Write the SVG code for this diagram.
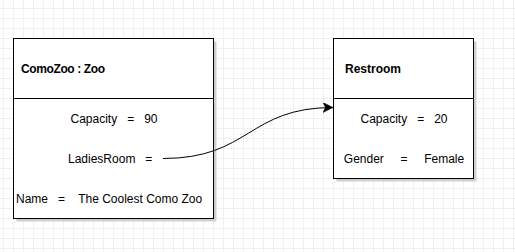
<svg xmlns="http://www.w3.org/2000/svg" width="515" height="252" viewBox="0 0 515 252">
  <style>
    .box { fill: #ffffff; stroke: #000000; stroke-width: 1; }
    .shadow { fill: #cfcfcf; }
    .div { stroke: #000000; stroke-width: 1; }
    .t { font-family: "Liberation Sans", Arial, sans-serif; font-size: 12px; fill: #000000; }
    .b { font-weight: bold; }
    .edge { fill: none; stroke: #000000; stroke-width: 1; }
  </style>
  <defs>
    <pattern id="grid" x="3" y="8" width="10" height="10" patternUnits="userSpaceOnUse">
      <path d="M0,0.5 H10 M0.5,0 V10" fill="none" stroke="#f0f0f0" stroke-width="1"/>
    </pattern>
    <marker id="arrow" markerWidth="12" markerHeight="12" refX="10" refY="5" orient="auto" markerUnits="userSpaceOnUse">
      <path d="M0,0 L10,5 L0,10 L2.5,5 Z" fill="#000000" stroke="#000000" stroke-width="0.5"/>
    </marker>
  </defs>
  <rect width="515" height="252" fill="#ffffff"/>
  <rect width="515" height="252" fill="url(#grid)"/>

  <g id="comozoo">
    <rect class="shadow" x="16.5" y="41.5" width="200" height="180"/>
    <rect class="box" x="13.5" y="38.5" width="200" height="180"/>
    <line class="div" x1="13.5" y1="98.5" x2="213.5" y2="98.5"/>
    <text class="t b" x="21" y="73" textLength="84" lengthAdjust="spacing">ComoZoo : Zoo</text>
    <text class="t" x="114" y="123" text-anchor="middle" xml:space="preserve">Capacity   =   90</text>
    <text class="t" x="68" y="163" xml:space="preserve">LadiesRoom   =</text>
    <text class="t" x="16" y="203" xml:space="preserve">Name   =    The Coolest Como Zoo</text>
  </g>

  <g id="restroom">
    <rect class="shadow" x="336.5" y="41.5" width="140" height="140"/>
    <rect class="box" x="333.5" y="38.5" width="140" height="140"/>
    <line class="div" x1="333.5" y1="98.5" x2="473.5" y2="98.5"/>
    <text class="t b" x="345" y="73">Restroom</text>
    <text class="t" x="404" y="123" text-anchor="middle" xml:space="preserve">Capacity   =   20</text>
    <text class="t" x="404" y="163" text-anchor="middle" xml:space="preserve">Gender     =     Female</text>
  </g>

  <g id="connectors">
    <path class="edge" d="M163,158.5 C250,158.5 248,107.5 333,107.5" marker-end="url(#arrow)"/>
  </g>
</svg>
